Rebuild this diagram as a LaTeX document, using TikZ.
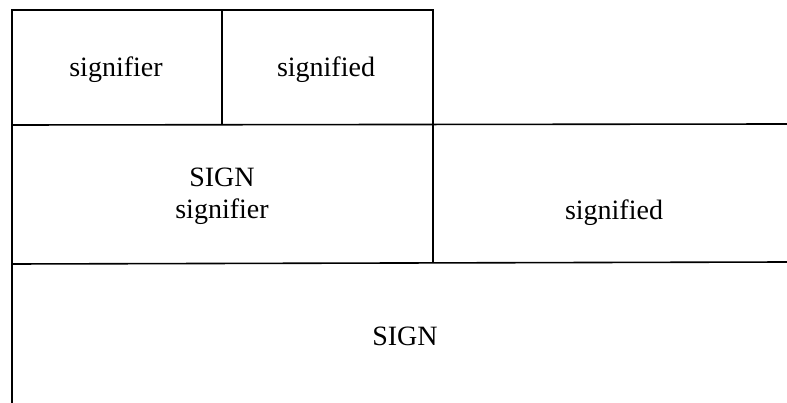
\documentclass[tikz,border=0pt]{standalone}
\usepackage{fontspec}
\setmainfont{Liberation Serif}
\begin{document}
\begin{tikzpicture}[x=1pt,y=-1pt,
  rule/.style={line width=1.6pt,black},
  lbl/.style={anchor=base,inner sep=0pt,font=\fontsize{28}{32}\selectfont}]
\useasboundingbox (0,0) rectangle (787,403);
% grid of the nested sign diagram
\draw[rule] (12,403) -- (12,10) -- (433,10) -- (433,263);
\draw[rule] (222,10) -- (222,125);
\draw[rule] (12,125) -- (787,124);
\draw[rule] (12,264) -- (787,262);
% labels
\node[lbl] (sr1) at (116,77) {signifier};
\node[lbl] (sd1) at (326,77) {signified};
\node[lbl] (sg1) at (222,187) {SIGN};
\node[lbl] (sr2) at (222,219) {signifier};
\node[lbl] (sd2) at (614,220) {signified};
\node[lbl] (sg2) at (405,345) {SIGN};
\end{tikzpicture}
\end{document}
